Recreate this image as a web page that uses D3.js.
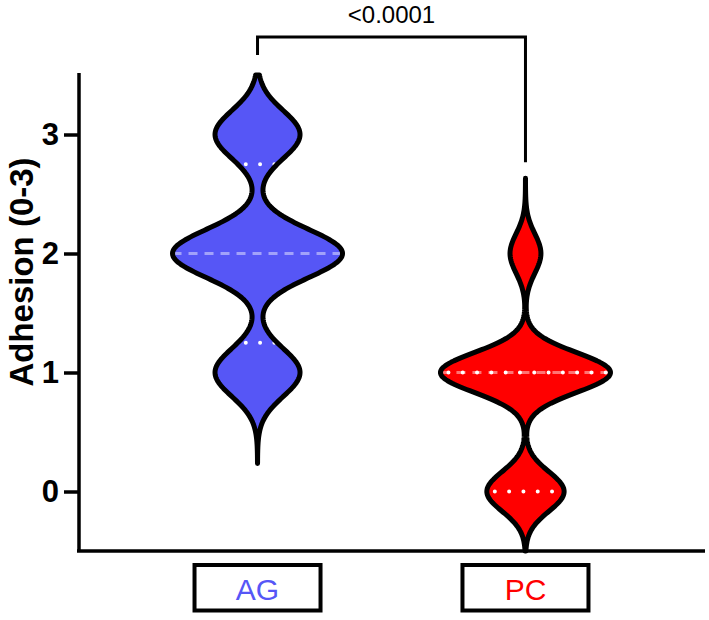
<!DOCTYPE html>
<html>
<head>
<meta charset="utf-8">
<script src="https://cdn.jsdelivr.net/npm/d3@7"></script>
<style>
  body { margin: 0; background: #fff; }
  svg { display: block; font-family: "Liberation Sans", Arial, sans-serif; }
</style>
</head>
<body>
<script>
// data (scores 0-3)
const groups = ["AG", "PC"];
const agScores = [1, 1, 1, 1, 2, 2, 2, 2, 2, 2, 2, 2, 3, 3, 3, 3];
const pcScores = [0, 0, 0, 0, 0, 1, 1, 1, 1, 1, 1, 1, 1, 1, 1, 1, 2, 2];
const yTicks = [0, 1, 2, 3];
const pValue = "<0.0001";
const groupColors = ["#5656f6", "#ff0000"];
const yLabel = "Adhesion (0-3)";

const width = 709, height = 620;

const svg = d3.select("body").append("svg")
  .attr("width", width)
  .attr("height", height);

const x = d3.scalePoint()
  .domain(groups)
  .range([78, 705])
  .padding(0.67);

const y = d3.scaleLinear()
  .domain([-0.5, 3.5])
  .range([551, 75]);

// axes
const yAxis = svg.append("g")
  .attr("transform", "translate(79,0)")
  .call(d3.axisLeft(y).tickValues(yTicks).tickFormat(d3.format("d")).tickSize(15).tickSizeOuter(0).tickPadding(5));
yAxis.select(".domain").attr("stroke-width", 3.5).attr("d", "M0," + (y(3.5) - 2) + "V" + y(-0.5));
yAxis.selectAll(".tick line").attr("stroke-width", 3.5);
yAxis.selectAll(".tick text")
  .attr("font-size", 31)
  .attr("font-weight", "bold")
  .attr("font-family", "'Liberation Sans', Arial, sans-serif")
  .attr("fill", "#000");

const xAxis = svg.append("g")
  .attr("transform", "translate(0," + y(-0.5) + ")")
  .call(d3.axisBottom(x).tickSize(0).tickSizeOuter(0).tickFormat(""));
xAxis.select(".domain").attr("stroke-width", 3.5).attr("d", "M77,0H705");

svg.append("text")
  .attr("transform", "translate(33,272) rotate(-90)")
  .attr("text-anchor", "middle")
  .attr("font-size", 33)
  .attr("font-weight", "bold")
  .text(yLabel);

// violin helpers
function gauss(u) { return Math.exp(-0.5 * u * u) / Math.sqrt(2 * Math.PI); }

function quart(sorted, p) {
  const n = sorted.length;
  const pos = (n + 1) * p;
  const lo = Math.floor(pos);
  if (lo < 1) return sorted[0];
  if (lo >= n) return sorted[n - 1];
  return sorted[lo - 1] + (pos - lo) * (sorted[lo] - sorted[lo - 1]);
}

const allScores = [agScores, pcScores];
const maxHalf = 85;

allScores.forEach((vals, gi) => {
  const sorted = vals.slice().sort(d3.ascending);
  const n = vals.length;
  const h = 0.48 * d3.deviation(vals) * Math.pow(n, -0.2);
  const dens = v => d3.sum(vals, d => gauss((v - d) / h)) / (n * h);
  const lo = Math.max(d3.min(vals) - 3.8 * h, -0.5);
  const hi = Math.min(d3.max(vals) + 3.8 * h, 3.5);
  const grid = d3.range(0, 301).map(i => lo + (hi - lo) * i / 300);
  const pts = grid.map(v => [v, dens(v)]);
  const maxD = d3.max(pts, p => p[1]);
  const w = d3.scaleLinear().domain([0, maxD]).range([0, maxHalf]);
  const cx = x(groups[gi]);

  const outline = pts.map(p => [cx + w(p[1]), y(p[0])])
    .concat(pts.slice().reverse().map(p => [cx - w(p[1]), y(p[0])]));
  const line = d3.line();
  const pathD = line(outline) + "Z";

  svg.append("path")
    .attr("d", pathD)
    .attr("fill", groupColors[gi])
    .attr("stroke", "none");

  const q1 = quart(sorted, 0.25), med = quart(sorted, 0.5), q3 = quart(sorted, 0.75);

  // median dashed
  const hm = w(dens(med));
  svg.append("line")
    .attr("x1", cx - hm).attr("x2", cx + hm)
    .attr("y1", y(med)).attr("y2", y(med))
    .attr("stroke", "#fff")
    .attr("stroke-opacity", 0.45)
    .attr("stroke-width", 3)
    .attr("stroke-dasharray", "9 7");

  // quartiles dotted
  [q1, q3].forEach(q => {
    const hq = w(dens(q));
    svg.append("line")
      .attr("x1", cx - hq + 8).attr("x2", cx + hq)
      .attr("y1", y(q)).attr("y2", y(q))
      .attr("stroke", "#fff")
      .attr("stroke-width", 4)
      .attr("stroke-linecap", "round")
      .attr("stroke-dasharray", "0 14.3");
  });

  svg.append("path")
    .attr("d", pathD)
    .attr("fill", "none")
    .attr("stroke", "#000")
    .attr("stroke-width", 5)
    .attr("stroke-linejoin", "round");

  if (gi === 1) {
    // keep top of the PC violin for the bracket
    svg.attr("data-pc-top", y(hi));
  }
});

// significance bracket
const bracketY = 37;
const pcTop = +svg.attr("data-pc-top");
svg.append("path")
  .attr("d", "M" + x("AG") + "," + (y(3.5) - 20) + "V" + bracketY + "H" + x("PC") + "V" + (pcTop - 16))
  .attr("fill", "none")
  .attr("stroke", "#000")
  .attr("stroke-width", 3);

svg.append("text")
  .attr("x", (x("AG") + x("PC")) / 2)
  .attr("y", 23)
  .attr("text-anchor", "middle")
  .attr("font-size", 24)
  .text(pValue);

// boxed category labels
const labels = svg.append("g").selectAll("g")
  .data(groups)
  .enter().append("g");

labels.append("rect")
  .attr("x", d => x(d) - 63)
  .attr("y", 565)
  .attr("width", 126)
  .attr("height", 45.5)
  .attr("fill", "none")
  .attr("stroke", "#000")
  .attr("stroke-width", 4);

labels.append("text")
  .attr("x", d => x(d))
  .attr("y", 600)
  .attr("text-anchor", "middle")
  .attr("font-size", 30)
  .attr("fill", (d, i) => groupColors[i])
  .text(d => d);
</script>
</body>
</html>
